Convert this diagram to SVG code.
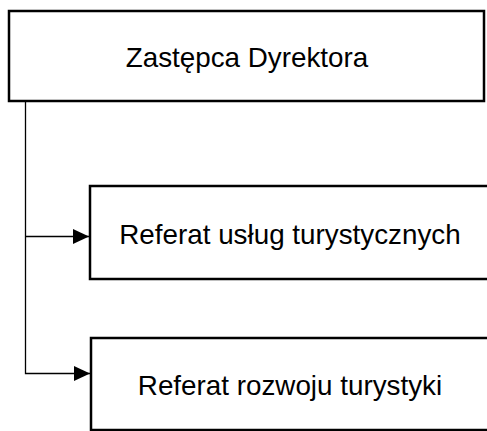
<svg xmlns="http://www.w3.org/2000/svg" width="487" height="431" viewBox="0 0 487 431">
<style>
.box{fill:#fff;stroke:#000;stroke-width:2.5}
.lbl{font-family:"Liberation Sans",Arial,sans-serif;font-size:27.8px;fill:#000;text-anchor:middle}
.con{fill:none;stroke:#000;stroke-width:1.3}
</style>
<defs>
<marker id="ah" markerWidth="16" markerHeight="15" refX="16" refY="7.5" orient="auto" markerUnits="userSpaceOnUse">
<path d="M0,0 L16,7.5 L0,15 Z" fill="#000"/>
</marker>
</defs>
<rect width="487" height="431" fill="#fff"/>
<g id="connectors">
<path class="con" d="M25.5,102 V373.5 H90" marker-end="url(#ah)"/>
<path class="con" d="M25.5,236.5 H89" marker-end="url(#ah)"/>
</g>
<g id="n1">
<rect class="box" x="9" y="11" width="475" height="90"/>
<text class="lbl" x="247" y="67">Zastępca Dyrektora</text>
</g>
<g id="n2">
<rect class="box" x="90" y="186" width="400" height="93"/>
<text class="lbl" x="290" y="244">Referat usług turystycznych</text>
</g>
<g id="n3">
<rect class="box" x="91" y="338" width="400" height="92"/>
<text class="lbl" x="290" y="395">Referat rozwoju turystyki</text>
</g>
</svg>
